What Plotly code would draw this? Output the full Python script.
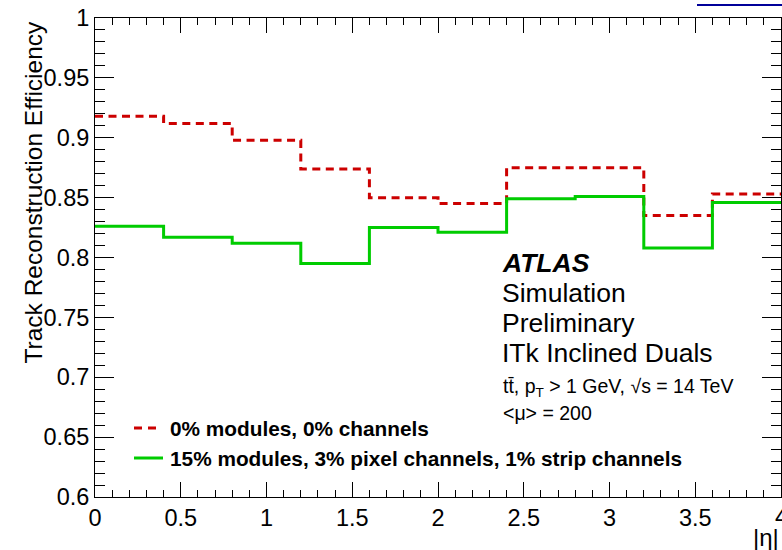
import plotly.graph_objects as go

# ---- data ----
bin_edges = [0.0, 0.4, 0.8, 1.2, 1.6, 2.0, 2.4, 2.8, 3.2, 3.6, 4.0]
eff_nominal = [0.918, 0.912, 0.898, 0.874, 0.850, 0.845, 0.875, 0.875, 0.835, 0.853]
eff_degraded = [0.826, 0.817, 0.812, 0.795, 0.825, 0.821, 0.849, 0.851, 0.808, 0.846]
name_nominal = "0% modules, 0% channels"
name_degraded = "15% modules, 3% pixel channels, 1% strip channels"
y_tickvals = [0.6, 0.65, 0.7, 0.75, 0.8, 0.85, 0.9, 0.95, 1.0]
y_ticktext = ["0.6", "0.65", "0.7", "0.75", "0.8", "0.85", "0.9", "0.95", "1"]
x_tickvals = [0, 0.5, 1, 1.5, 2, 2.5, 3, 3.5]
x_ticktext = ["0", "0.5", "1", "1.5", "2", "2.5", "3", "3.5"]
x_last_tick = 4
x_last_label = "4"

W, H = 782, 550
L, R, T, B = 95, 1, 18, 53
PW, PH = W - L - R, H - T - B
FONT = "Liberation Sans, Arial, Helvetica, sans-serif"
RED = "#cc0000"
GREEN = "#00cc00"


def px(x):
    return (x - L) / PW


def py(y):
    return (H - B - y) / PH


def step_xy(edges, vals):
    return list(edges), list(vals) + [vals[-1]]


fig = go.Figure()
xs, ys = step_xy(bin_edges, eff_nominal)
fig.add_trace(go.Scatter(x=xs, y=ys, mode="lines", line_shape="hv", name=name_nominal,
                         line=dict(color=RED, width=3, dash="8px,5.5px"), showlegend=False))
xs, ys = step_xy(bin_edges, eff_degraded)
fig.add_trace(go.Scatter(x=xs, y=ys, mode="lines", line_shape="hv", name=name_degraded,
                         line=dict(color=GREEN, width=3), showlegend=False))

axis_common = dict(showline=True, linecolor="black", linewidth=1, mirror="allticks",
                   ticks="inside", tickcolor="black", tickwidth=1, showgrid=False,
                   zeroline=False, tickfont=dict(family=FONT, size=23.5, color="black"))

fig.update_xaxes(range=[0, 4], tickvals=x_tickvals, ticktext=x_ticktext, ticklen=15,
                 minor=dict(dtick=0.1, ticklen=7, ticks="inside", tickcolor="black", tickwidth=1),
                 **axis_common)
fig.update_yaxes(range=[0.6, 1.0], tickvals=y_tickvals, ticktext=y_ticktext, ticklen=19,
                 minor=dict(dtick=0.01, ticklen=10, ticks="inside", tickcolor="black", tickwidth=1),
                 **axis_common)

annotations = [
    dict(text="Track Reconstruction Efficiency", x=px(33), y=py(19), xanchor="center",
         yanchor="top", textangle=-90, font=dict(family=FONT, size=24.5, color="black")),
    dict(text="|η|", x=1.0, y=py(537), xanchor="right", yanchor="middle",
         font=dict(family=FONT, size=24, color="black")),
    dict(text=x_last_label, x=x_last_tick, xref="x", y=py(517), xanchor="center", yanchor="middle",
         font=dict(family=FONT, size=23.5, color="black")),
    dict(text="<b><i>ATLAS</i></b>", x=px(500), y=py(263), xanchor="left", yanchor="middle",
         font=dict(family=FONT, size=26.5, color="black")),
    dict(text="Simulation", x=px(500), y=py(293), xanchor="left", yanchor="middle",
         font=dict(family=FONT, size=26.5, color="black")),
    dict(text="Preliminary", x=px(500), y=py(323), xanchor="left", yanchor="middle",
         font=dict(family=FONT, size=26.5, color="black")),
    dict(text="ITk Inclined Duals", x=px(500), y=py(353), xanchor="left", yanchor="middle",
         font=dict(family=FONT, size=26.5, color="black")),
    dict(text="tt\u0304, p<sub>T</sub> &gt; 1 GeV, \u221as = 14 TeV", x=px(501), y=py(387),
         xanchor="left", yanchor="middle", font=dict(family=FONT, size=19.5, color="black")),
    dict(text="&lt;\u03bc&gt; = 200", x=px(501), y=py(413), xanchor="left", yanchor="middle",
         font=dict(family=FONT, size=19.5, color="black")),
    dict(text="<b>" + name_nominal + "</b>", x=px(168), y=py(428), xanchor="left",
         yanchor="middle", font=dict(family=FONT, size=20.8, color="black")),
    dict(text="<b>" + name_degraded + "</b>", x=px(168), y=py(458), xanchor="left",
         yanchor="middle", font=dict(family=FONT, size=20.8, color="black")),
]
for a in annotations:
    a.setdefault("xref", "paper")
    a.update(yref="paper", showarrow=False)

shapes = [
    dict(type="line", xref="paper", yref="paper", x0=px(134), x1=px(158), y0=py(428), y1=py(428),
         line=dict(color=RED, width=3, dash="8px,6px")),
    dict(type="line", xref="paper", yref="paper", x0=px(134), x1=px(163), y0=py(458), y1=py(458),
         line=dict(color=GREEN, width=3)),
    dict(type="line", xref="paper", yref="paper", x0=px(697), x1=px(782), y0=py(5), y1=py(5),
         line=dict(color="#000099", width=2)),
]

fig.update_layout(width=W, height=H, margin=dict(l=L, r=R, t=T, b=B, autoexpand=False),
                  paper_bgcolor="white", plot_bgcolor="white",
                  annotations=annotations, shapes=shapes, showlegend=False)

fig.write_html("out.html")
